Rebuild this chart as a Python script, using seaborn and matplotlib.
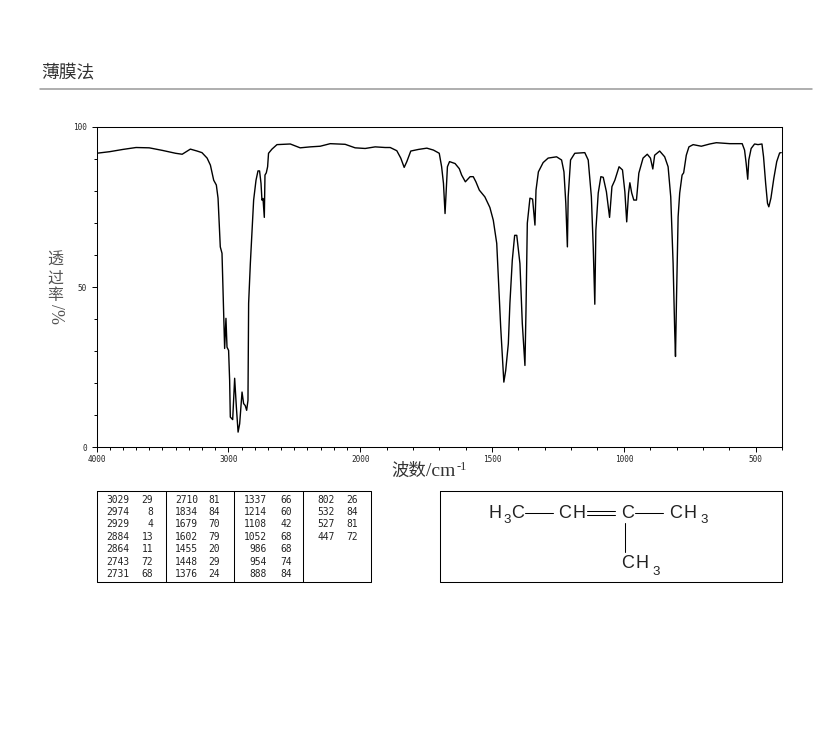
import numpy as np
import matplotlib
matplotlib.use("Agg")
import matplotlib.pyplot as plt
import seaborn as sns

# спектр: волновое число / пропускание
wavenumber = [4000, 3900, 3800, 3700, 3600, 3500, 3400, 3350, 3288, 3237, 3200, 3161, 3136, 3111, 3091, 3078,
              3061, 3048, 3035, 3028, 3018, 3010, 2998, 2990, 2985, 2967, 2952, 2939, 2926, 2914, 2896, 2884,
              2872, 2861, 2851, 2846, 2833, 2820, 2808, 2790, 2775, 2763, 2752, 2745, 2737, 2727, 2722, 2712,
              2702, 2695, 2669, 2631, 2530, 2455, 2379, 2303, 2227, 2114, 2038, 1981, 1943, 1905, 1886, 1861,
              1846, 1833, 1823, 1808, 1779, 1747, 1722, 1700, 1691, 1684, 1678, 1674, 1669, 1661, 1640, 1624,
              1615, 1601, 1583, 1571, 1561, 1548, 1527, 1508, 1495, 1482, 1476, 1467, 1459, 1455, 1448, 1438,
              1432, 1423, 1414, 1406, 1394, 1385, 1375, 1371, 1366, 1356, 1346, 1337, 1333, 1324, 1306, 1287,
              1255, 1236, 1227, 1220, 1214, 1211, 1202, 1186, 1148, 1135, 1123, 1116, 1110, 1106, 1097, 1087,
              1078, 1066, 1054, 1045, 1034, 1018, 1005, 996, 989, 982, 977, 970, 962, 952, 943, 927,
              911, 899, 890, 883, 864, 845, 832, 822, 813, 807, 804, 800, 794, 788, 779, 773,
              763, 753, 737, 706, 674, 649, 598, 551, 542, 536, 530, 526, 517, 504, 491, 476,
              470, 462, 455, 450, 442, 431, 420, 409, 403]
transmittance = [91.8, 92.3, 93.0, 93.6, 93.5, 92.7, 91.8, 91.5, 93.1, 92.5, 92.0, 90.3, 88.1, 83.4, 81.9, 77.8,
                 62.6, 60.6, 40.7, 30.9, 40.3, 31.3, 30.3, 20.9, 9.5, 8.7, 21.6, 12.6, 4.8, 7.4, 17.3, 13.7,
                 13.1, 11.6, 14.7, 45.0, 57.4, 67.8, 77.2, 83.4, 86.3, 86.3, 82.4, 77.2, 77.7, 71.8, 85.0, 85.7,
                 87.6, 91.8, 93.1, 94.5, 94.7, 93.5, 93.8, 94.0, 94.8, 94.6, 93.5, 93.3, 93.8, 93.6, 93.6, 92.6,
                 90.3, 87.4, 89.2, 92.5, 93.0, 93.4, 92.8, 91.8, 87.6, 82.4, 73.0, 79.4, 87.6, 89.2, 88.6, 87.0,
                 85.0, 82.9, 84.5, 84.5, 82.9, 80.3, 78.2, 74.9, 70.9, 63.7, 53.2, 37.6, 26.2, 20.4, 24.0, 32.4,
                 45.0, 58.4, 66.2, 66.2, 57.4, 38.7, 25.6, 42.8, 70.0, 77.8, 77.5, 69.4, 80.3, 86.0, 88.9, 90.3,
                 90.7, 89.7, 86.0, 76.2, 62.6, 78.2, 89.7, 91.8, 92.0, 89.7, 78.2, 62.6, 44.7, 67.8, 79.4, 84.5,
                 84.3, 79.8, 71.8, 81.4, 83.4, 87.6, 86.6, 79.8, 70.4, 79.4, 82.6, 79.4, 77.2, 77.2, 85.6, 90.3,
                 91.5, 90.3, 86.9, 91.2, 92.5, 90.7, 87.6, 78.2, 57.4, 36.5, 28.4, 47.0, 72.0, 79.4, 85.0, 85.7,
                 91.2, 93.8, 94.5, 94.0, 94.7, 95.1, 94.8, 94.8, 92.8, 88.7, 83.7, 89.7, 93.3, 94.7, 94.5, 94.7,
                 90.7, 82.4, 76.2, 75.1, 77.8, 84.0, 89.2, 91.9, 92.0]

x_major = [4000, 3000, 2000, 1500, 1000, 500]
y_major = [0, 50, 100]

# таблица пиков
peak_wn = [[3029, 2974, 2929, 2884, 2864, 2743, 2731],
           [2710, 1834, 1679, 1602, 1455, 1448, 1376],
           [1337, 1214, 1108, 1052, 986, 954, 888],
           [802, 532, 527, 447]]
peak_t = [[29, 8, 4, 13, 11, 72, 68],
          [81, 84, 70, 79, 20, 29, 24],
          [66, 60, 42, 68, 68, 74, 84],
          [26, 84, 81, 72]]

sns.set_style("white")
CJK = ["Noto Sans CJK SC", "DejaVu Sans"]
MONO = "DejaVu Sans Mono"


# шкала сжата вдвое выше 2000 см-1
def forward(x):
    x = np.asarray(x, dtype=float)
    return np.where(x <= 2000, x, 2000 + (x - 2000) / 2)


def inverse(y):
    y = np.asarray(y, dtype=float)
    return np.where(y <= 2000, y, 2000 + (y - 2000) * 2)


W, H = 822, 737
fig = plt.figure(figsize=(W / 100, H / 100), dpi=100)
ax = fig.add_axes([96.5 / W, 1 - 447.5 / H, 685.5 / W, 320.5 / H])

sns.lineplot(x=wavenumber, y=transmittance, sort=False, estimator=None, color="black", linewidth=1.0, ax=ax)
ax.set_xscale("function", functions=(forward, inverse))
ax.set_xlim(4000, 400)
ax.set_ylim(0, 100)

ax.set_xticks(x_major)
ax.set_xticklabels([str(v) for v in x_major], fontfamily=MONO, fontsize=5.6)
ax.set_xticks([v for v in range(400, 4000, 100) if v not in x_major], minor=True)
ax.set_yticks(y_major)
ax.set_yticklabels([str(v) for v in y_major], fontfamily=MONO, fontsize=5.6)
ax.set_yticks([v for v in range(0, 100, 10) if v not in y_major], minor=True)
ax.tick_params(which="major", direction="out", length=3.6, width=0.7, color="black", bottom=True, left=True)
ax.tick_params(which="minor", direction="out", length=2.0, width=0.7, color="black", bottom=True, left=True)
ax.tick_params(axis="x", which="major", pad=1.5)
ax.tick_params(axis="y", which="major", pad=3.5)
for s in ax.spines.values():
    s.set_color("black")
    s.set_linewidth(0.75)

# слой в пикселях для подписей, таблицы и формулы
ov = fig.add_axes([0, 0, 1, 1], zorder=5)
ov.set_xlim(0, W)
ov.set_ylim(H, 0)
ov.axis("off")
ov.patch.set_alpha(0)

ov.text(41, 72, "薄膜法", family=CJK, fontsize=12.8, color="#333333", va="center", ha="left")
ov.plot([40, 812], [89, 89], color="#999999", lw=1.1)

# подпись оси y
for cy, ch in zip([260, 278, 295], "透过率"):
    ov.text(55, cy, ch, family=CJK, fontsize=11.5, color="#555555", ha="center", va="center")
ov.text(55, 314, "/%", family="Liberation Serif", fontsize=13, color="#555555", rotation=-90, ha="center", va="center")

# подпись оси x
ov.text(391, 475.5, "波数", family=CJK, fontsize=12.5, color="#333333", va="baseline", ha="left")
ov.text(426, 475.5, "/cm", family="Liberation Serif", fontsize=14, color="#333333", va="baseline", ha="left")
ov.text(457, 470, "-1", family="Liberation Serif", fontsize=9, color="#333333", va="baseline", ha="left")

# таблица
ov.plot([96.5, 370.5, 370.5, 96.5, 96.5], [490.5, 490.5, 582, 582, 490.5], color="black", lw=0.75)
for sx in [165.5, 233.5, 302.5]:
    ov.plot([sx, sx], [490.5, 582], color="black", lw=0.75)
wn_right = [129, 198, 267, 335]
t_right = [153, 220, 292, 358]
row_y = [500, 512, 524, 537, 549, 562, 574]
for c in range(4):
    for r, (w, t) in enumerate(zip(peak_wn[c], peak_t[c])):
        ov.text(wn_right[c], row_y[r], str(w), family=MONO, fontsize=6.9, ha="right", va="center", color="#222222")
        ov.text(t_right[c], row_y[r], str(t), family=MONO, fontsize=6.9, ha="right", va="center", color="#222222")

# структурная формула
ov.plot([439.5, 782, 782, 439.5, 439.5], [490.5, 490.5, 582, 582, 490.5], color="black", lw=0.75)
SF = "Liberation Sans"
big = 13
small = 9.5
for px, py, s, fs in [(488, 518, "H", big), (503, 523, "3", small), (511, 518, "C", big),
                      (558, 518, "C", big), (572, 518, "H", big), (621, 518, "C", big),
                      (669, 518, "C", big), (683, 518, "H", big), (700, 523, "3", small),
                      (621, 568, "C", big), (635, 568, "H", big), (652, 575, "3", small)]:
    ov.text(px, py, s, family=SF, fontsize=fs, color="#222222", ha="left", va="baseline")
ov.plot([525, 553], [512.5, 512.5], color="black", lw=0.75)
ov.plot([587, 615], [510.5, 510.5], color="black", lw=0.75)
ov.plot([587, 615], [514.5, 514.5], color="black", lw=0.75)
ov.plot([635, 663], [512.5, 512.5], color="black", lw=0.75)
ov.plot([624.5, 624.5], [523, 552], color="black", lw=0.75)

fig.savefig("out.png", dpi=100)
